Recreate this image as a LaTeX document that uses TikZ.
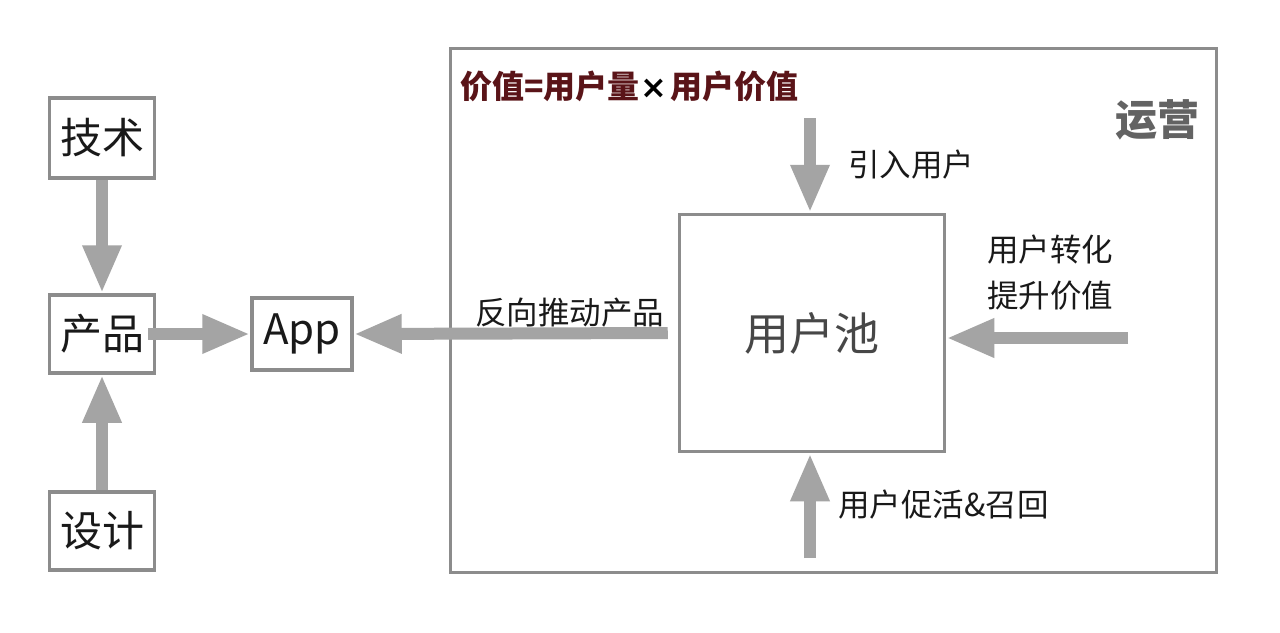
\documentclass[tikz,border=0pt]{standalone}
\usepackage{fontspec}
\setmainfont{Noto Sans CJK SC}
\newfontfamily\symfont{DejaVu Sans}
\usetikzlibrary{arrows.meta}
\definecolor{boxgray}{HTML}{8C8C8C}
\definecolor{arrgray}{HTML}{A4A4A4}
\definecolor{titlered}{HTML}{5A1418}
\definecolor{darktxt}{HTML}{474747}
\tikzset{
  smallbox/.style={draw=boxgray, line width=3.5pt, fill=white, inner sep=0pt, font=\fontsize{42}{46}\selectfont, text=black!90},
  bigarrow/.style={draw=arrgray, line width=12pt, -{Triangle[width=36pt,length=48pt]}},
  lbl/.style={font=\fontsize{31.5}{36}\selectfont, text=black!90, inner sep=0pt},
}
\begin{document}
\begin{tikzpicture}[x=1pt,y=-1pt]
\useasboundingbox[fill=white] (0,0) rectangle (1280,632);
% outer operations box
\node[draw=boxgray, line width=3pt, minimum width=766pt, minimum height=524pt, inner sep=0pt] (ops) at (833,310) {};
\node[anchor=west, inner sep=0pt, font=\fontsize{32}{36}\selectfont\bfseries, text=titlered] (title) at (460,86) {价值=用户量{\symfont\bfseries\color{black}\kern1pt×\kern3pt}用户价值};
\node[anchor=east, inner sep=0pt, font=\fontsize{42}{46}\selectfont\bfseries, text=darktxt!85] (yy) at (1200,120) {运营};
% left boxes
\node[smallbox, minimum width=105pt, minimum height=80pt] (tech) at (102,138) {技术};
\node[smallbox, minimum width=105pt, minimum height=78pt] (prod) at (102,334) {产品};
\node[smallbox, minimum width=105pt, minimum height=78pt] (design) at (102,531) {设计};
\node[smallbox, minimum width=100pt, minimum height=72pt] (app) at (302,334) {App};
% pool
\node[draw=boxgray, line width=3.5pt, fill=white, minimum width=265pt, minimum height=237pt, inner sep=0pt, font=\fontsize{45}{48}\selectfont, text=darktxt] (pool) at (812,333) {用户池};
% arrows left
\draw[bigarrow] (tech.south) -- (prod.north);
\draw[bigarrow] (design.north) -- (prod.south);
\draw[bigarrow] ([xshift=-8pt]prod.east) -- (app.west);
\draw[bigarrow] ([xshift=-10pt]pool.west) -- (app.east);
\node[lbl, anchor=south west] (fx) at (475,327) {反向推动产品};
% arrows into pool
\coordinate (topin) at (810,118);
\coordinate (rightin) at (1128,338);
\coordinate (botin) at (810,558);
\draw[bigarrow] (topin) -- (topin |- pool.north);
\draw[bigarrow] (rightin) -- (pool.east |- rightin);
\draw[bigarrow] (botin) -- (botin |- pool.south);
\node[lbl, anchor=west] (yr) at (848,165) {引入用户};
\node[lbl, anchor=west, align=left, font=\fontsize{31.5}{46}\selectfont] (zh) at (987,273) {用户转化\\提升价值};
\node[lbl, anchor=west] (ch) at (838,505) {用户促活\&召回};
\end{tikzpicture}
\end{document}
